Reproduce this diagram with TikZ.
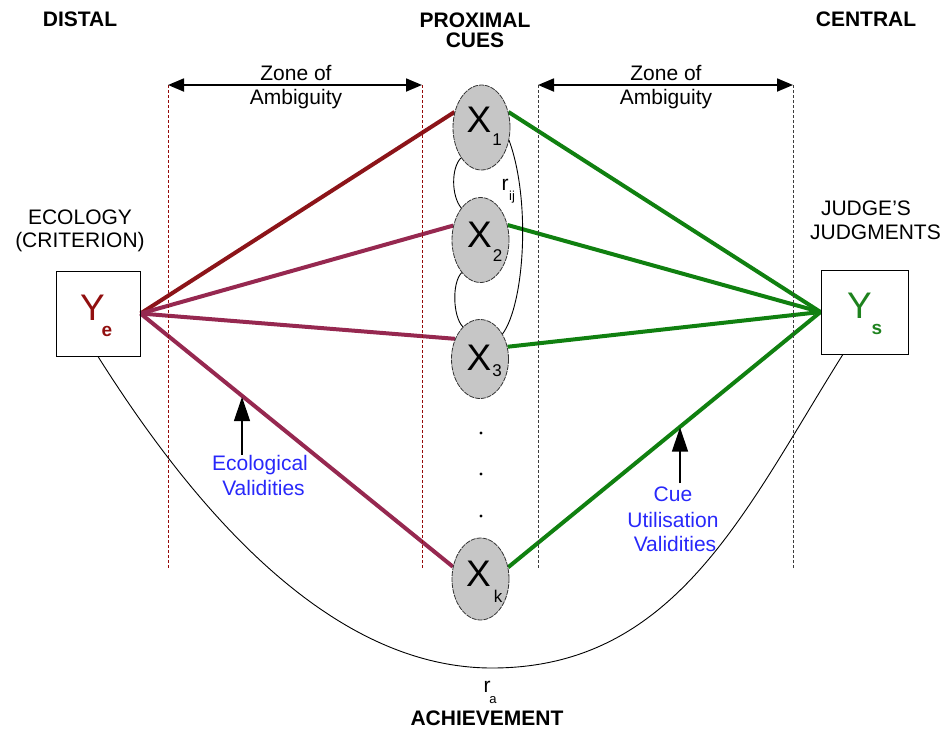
\documentclass[tikz,border=0pt]{standalone}
\usepackage{fontspec}
\setmainfont{Liberation Sans}
\usetikzlibrary{arrows.meta,shapes.geometric,backgrounds}
\definecolor{lred}{RGB}{140,20,25}
\definecolor{lmaroon}{RGB}{150,40,80}
\definecolor{lgreen}{RGB}{16,128,16}
\definecolor{lblue}{RGB}{40,40,250}
\definecolor{dred}{RGB}{150,10,10}
\definecolor{dgray}{RGB}{60,60,60}
\definecolor{cuefill}{RGB}{198,198,198}
\definecolor{yred}{RGB}{145,15,15}
\definecolor{ygreen}{RGB}{30,130,30}
\begin{document}
\begin{tikzpicture}[x=1pt,y=-1pt,
  lab/.style={font=\fontsize{21pt}{21pt}\selectfont, inner sep=0pt, anchor=base},
  ttl/.style={lab, font=\fontsize{21pt}{21pt}\selectfont\bfseries},
  small/.style={font=\fontsize{13pt}{13pt}\selectfont, inner sep=0pt, anchor=base},
  cuenode/.style={ellipse, draw=black!80, fill=cuefill, line width=0.8pt, dash pattern=on 5pt off 1pt, inner sep=0pt, minimum width=57pt, minimum height=85pt},
  bigx/.style={font=\fontsize{37pt}{37pt}\selectfont, inner sep=0pt, anchor=base},
  subx/.style={font=\fontsize{17pt}{17pt}\selectfont, inner sep=0pt, anchor=base},
  ybox/.style={draw=black, line width=1pt, inner sep=0pt, minimum width=84pt, minimum height=85pt},
  zonebd/.style={dash pattern=on 3pt off 2pt, line width=0.8pt},
  zonearrow/.style={{Triangle[length=16pt,width=13pt]}-{Triangle[length=16pt,width=13pt]}, line width=1.8pt},
  valarrow/.style={-{Triangle[length=24pt,width=16pt]}, line width=1.2pt},
  ecoline/.style={line width=4pt, color=lmaroon},
  judline/.style={line width=4pt, color=lgreen},
  validtxt/.style={lab, text=lblue},
  thinline/.style={line width=0.9pt, color=black}
]
\useasboundingbox (0,0) rectangle (946,729);

% titles
\node[ttl] (distal) at (80,26) {DISTAL};
\node[ttl] (prox1) at (475,27) {PROXIMAL};
\node[ttl] (prox2) at (475,47.5) {CUES};
\node[ttl] (central) at (866,26) {CENTRAL};
\node[ttl] (achv) at (487,725) {ACHIEVEMENT};

\node[lab] (eco1) at (80,224.5) {ECOLOGY};
\node[lab] (eco2) at (80,247.5) {(CRITERION)};
\node[lab] (jud1) at (866,215.5) {JUDGE'S};
\node[lab] (jud2) at (875.5,239.5) {JUDGMENTS};

% zone boundaries
\coordinate (za) at (168,85);
\coordinate (zab) at (168,568);
\coordinate (zb) at (422,85);
\coordinate (zbb) at (422,568);
\coordinate (zc) at (538,85);
\coordinate (zcb) at (538,568);
\coordinate (zd) at (793,85);
\coordinate (zdb) at (793,568);
\draw[zonebd, dred] (za) -- (zab);
\draw[zonebd, dred] (zb) -- (zbb);
\draw[zonebd, dgray] (zc) -- (zcb);
\draw[zonebd, dgray] (zd) -- (zdb);
\draw[zonearrow] (za) -- (zb);
\draw[zonearrow] (zc) -- (zd);
\node[lab] (zl1) at (296,80.5) {Zone of};
\node[lab] (zl2) at (296,104) {Ambiguity};
\node[lab] (zr1) at (666,80.5) {Zone of};
\node[lab] (zr2) at (666,104) {Ambiguity};

% boxes
\node[ybox] (Ye) at (98,313.5) {};
\node[ybox, minimum width=87pt, minimum height=84pt] (Ys) at (864.5,312) {};
\node[bigx, text=yred] (Yet) at (92.5,320) {Y};
\node[subx, text=yred, font=\fontsize{19pt}{19pt}\selectfont\bfseries] (Yes) at (107,336) {e};
\node[bigx, text=ygreen] (Yst) at (859.5,318) {Y};
\node[subx, text=ygreen, font=\fontsize{19pt}{19pt}\selectfont\bfseries] (Yss) at (877,334) {s};

% cues
\node[cuenode] (X1) at (481.5,127.5) {};
\node[cuenode] (X2) at (480.5,240) {};
\node[cuenode, minimum height=79pt] (X3) at (480,359) {};
\node[cuenode, minimum height=82pt] (Xk) at (480.5,579) {};
\node[bigx] (X1t) at (479,132) {X};
\node[subx] (X1s) at (497,145) {1};
\node[bigx] (X2t) at (479.5,247) {X};
\node[subx] (X2s) at (497.5,261) {2};
\node[bigx] (X3t) at (479,370) {X};
\node[subx] (X3s) at (497,376) {3};
\node[bigx] (Xkt) at (478.5,586) {X};
\node[subx] (Xks) at (498,602) {k};

% dots
\fill (481,433) circle (1.6pt) coordinate (d1);
\fill (481,474) circle (1.6pt) coordinate (d2);
\fill (481,516) circle (1.6pt) coordinate (d3);

\begin{scope}[on background layer]
\draw[ecoline, color=lred] (Ye.east) -- (X1.150);
\draw[ecoline] (Ye.east) -- (X2.152);
\draw[ecoline] (Ye.east) -- (X3.141);
\draw[ecoline] (Ye.east) -- (Xk.156);
\draw[judline] (X1.30) -- (Ys.west);
\draw[judline] (X2.29) -- (Ys.west);
\draw[judline] (X3.24) -- (Ys.west);
\draw[judline] (Xk.23) -- (Ys.west);
\end{scope}

% intercorrelation arcs
\draw[thinline] (X1.236) .. controls +(-10,10) and +(-10,-12) .. (X2.121);
\draw[thinline] (X2.240) .. controls +(-10,10) and +(-10,-10) .. (X3.118);
\draw[thinline] (X1.335) .. controls +(22,60) and +(22,-30) .. (X3.48);
\node[lab] (rij) at (505,190) {r};
\node[small] (rijs) at (512,200) {ij};

% achievement curve
\coordinate (abot) at (492,668);
\draw[thinline] (Ye.south) .. controls +(131,208) and +(-131,0) .. (abot) .. controls +(184,0) and +(-98,156) .. (Ys.243);
\node[lab] (ra) at (487,692) {r};
\node[small] (ras) at (493,703) {a};

% validity arrows
\coordinate (ea1) at (242,455);
\coordinate (ea2) at (242,397);
\draw[valarrow] (ea1) -- (ea2);
\node[validtxt] (ev1) at (260,470) {Ecological};
\node[validtxt] (ev2) at (263.5,495) {Validities};
\coordinate (ca1) at (680,483);
\coordinate (ca2) at (680,427.5);
\draw[valarrow] (ca1) -- (ca2);
\node[validtxt] (cv1) at (673,501) {Cue};
\node[validtxt] (cv2) at (673,527) {Utilisation};
\node[validtxt] (cv3) at (675,551) {Validities};
\end{tikzpicture}
\end{document}
